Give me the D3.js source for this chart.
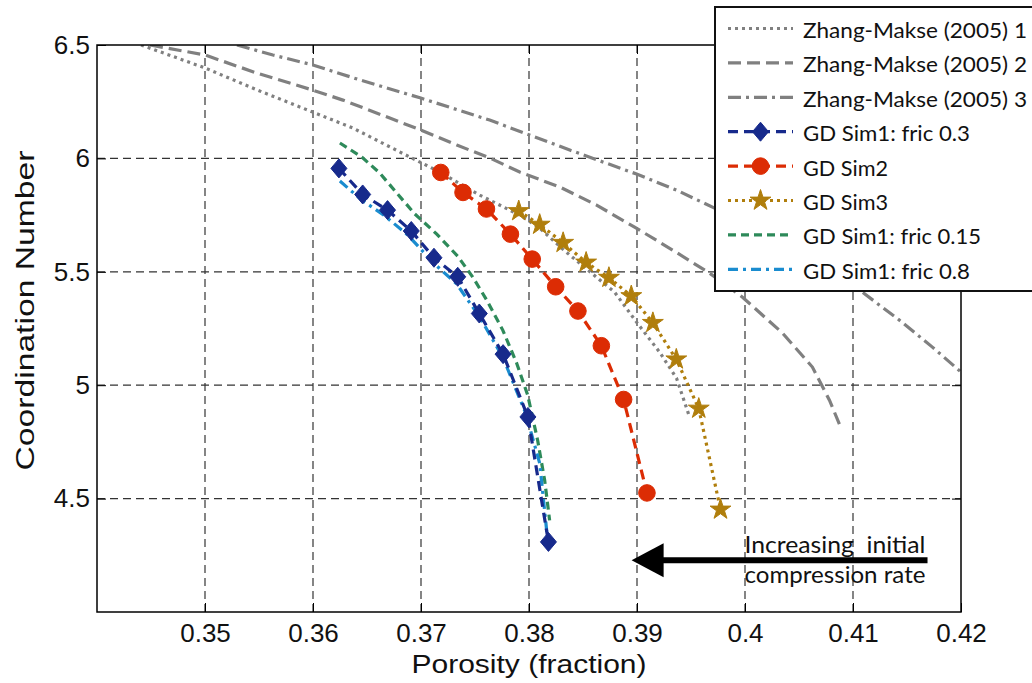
<!DOCTYPE html>
<html>
<head>
<meta charset="utf-8">
<script src="https://cdn.jsdelivr.net/npm/d3@7"></script>
<style>
  body { margin: 0; background: #fff; }
  svg { display: block; }
</style>
</head>
<body>
<svg id="chart" width="1032" height="683"></svg>
<script>
// ---- axis ticks ----
const xTickValues = [0.35, 0.36, 0.37, 0.38, 0.39, 0.40, 0.41, 0.42];
const xTickLabels = ["0.35", "0.36", "0.37", "0.38", "0.39", "0.4", "0.41", "0.42"];
const yTickValues = [4.5, 5, 5.5, 6, 6.5];
const yTickLabels = ["4.5", "5", "5.5", "6", "6.5"];

// ---- Zhang-Makse (2005) reference curves ----
const zm1Porosity = [0.34408, 0.35, 0.35481, 0.35999, 0.36369, 0.36896, 0.37174, 0.37544, 0.37914, 0.38099, 0.38312, 0.38534, 0.38793, 0.38996, 0.39209, 0.39366, 0.39487];
const zm1Coord    = [6.50, 6.399, 6.302, 6.204, 6.134, 6.006, 5.940, 5.838, 5.750, 5.693, 5.600, 5.512, 5.410, 5.278, 5.146, 5.031, 4.859];

const zm2Porosity = [0.34491, 0.35, 0.35481, 0.35999, 0.36277, 0.36711, 0.36998, 0.37331, 0.37636, 0.37914, 0.38284, 0.38626, 0.38978, 0.39329, 0.39672, 0.39977, 0.40347, 0.40624, 0.40782, 0.40874];
const zm2Coord    = [6.50, 6.456, 6.376, 6.301, 6.257, 6.178, 6.125, 6.059, 6.002, 5.940, 5.874, 5.794, 5.697, 5.596, 5.494, 5.388, 5.230, 5.080, 4.934, 4.828];

const zm3Porosity = [0.35296, 0.35629, 0.35999, 0.36434, 0.36998, 0.37636, 0.38377, 0.38996, 0.39366, 0.39718, 0.41087, 0.41429, 0.41735, 0.42];
const zm3Coord    = [6.50, 6.456, 6.412, 6.346, 6.266, 6.169, 6.037, 5.931, 5.860, 5.781, 5.410, 5.287, 5.168, 5.058];

// ---- GD simulations ----
const sim1f03Porosity = [0.3624, 0.3646, 0.3669, 0.3691, 0.3712, 0.3734, 0.3754, 0.3776, 0.3799, 0.3818];
const sim1f03Coord    = [5.956, 5.841, 5.772, 5.680, 5.562, 5.478, 5.316, 5.137, 4.860, 4.309];

const sim2Porosity = [0.37183, 0.37389, 0.37606, 0.37828, 0.38030, 0.38247, 0.38453, 0.38670, 0.38876, 0.39092];
const sim2Coord    = [5.938, 5.850, 5.777, 5.666, 5.556, 5.434, 5.327, 5.174, 4.937, 4.525];

const sim3Porosity = [0.37905, 0.38099, 0.38316, 0.38529, 0.38740, 0.38947, 0.39147, 0.39364, 0.39572, 0.39773];
const sim3Coord    = [5.768, 5.708, 5.628, 5.541, 5.474, 5.393, 5.275, 5.114, 4.897, 4.452];

const sim1f015Porosity = [0.36249, 0.36452, 0.36619, 0.36776, 0.36943, 0.37146, 0.37340, 0.37479, 0.37609, 0.37757, 0.37886, 0.37988, 0.38080, 0.38145, 0.38191];
const sim1f015Coord    = [6.068, 6.006, 5.935, 5.847, 5.755, 5.666, 5.569, 5.477, 5.375, 5.243, 5.097, 4.956, 4.757, 4.581, 4.404];

const sim1f08Porosity = [0.36249, 0.36452, 0.36656, 0.36878, 0.37118, 0.37331, 0.37544, 0.37757, 0.37969, 0.38099, 0.38173];
const sim1f08Coord    = [5.900, 5.816, 5.750, 5.662, 5.538, 5.446, 5.300, 5.124, 4.877, 4.656, 4.316];

// ---- annotation ----
const arrowTail = [0.4169, 4.228];
const arrowTip  = [0.3895, 4.228];
const noteLines = ["Increasing\u00a0\u00a0initial", "compression rate"];
const noteAnchor = [0.39995, 4.259];

// ---- layout ----
const svg = d3.select("#chart");
const plot = { left: 97, right: 961, top: 45, bottom: 612 };

const x = d3.scaleLinear().domain([0.34, 0.42]).range([plot.left, plot.right]);
const y = d3.scaleLinear().domain([4.0, 6.5]).range([plot.bottom, plot.top]);

const zip = (xs, ys) => xs.map((v, i) => [v, ys[i]]);

const series = [
  { name: "Zhang-Makse (2005) 1", pts: zip(zm1Porosity, zm1Coord), color: "#808080", dash: "3,4", width: 3.2, marker: null },
  { name: "Zhang-Makse (2005) 2", pts: zip(zm2Porosity, zm2Coord), color: "#808080", dash: "13,6", width: 3.2, marker: null },
  { name: "Zhang-Makse (2005) 3", pts: zip(zm3Porosity, zm3Coord), color: "#808080", dash: "13,5,3,5", width: 3.2, marker: null },
  { name: "GD Sim1: fric 0.3", pts: zip(sim1f03Porosity, sim1f03Coord), color: "#172a8c", dash: "10,6", width: 3.2, marker: "diamond" },
  { name: "GD Sim2", pts: zip(sim2Porosity, sim2Coord), color: "#dc2c04", dash: "10,6", width: 3.2, marker: "circle" },
  { name: "GD Sim3", pts: zip(sim3Porosity, sim3Coord), color: "#b07e0c", dash: "3,4", width: 3.2, marker: "star" },
  { name: "GD Sim1: fric 0.15", pts: zip(sim1f015Porosity, sim1f015Coord), color: "#2e8a5a", dash: "8,5", width: 3.2, marker: null },
  { name: "GD Sim1: fric 0.8", pts: zip(sim1f08Porosity, sim1f08Coord), color: "#1a8ccf", dash: "10,5,3,5", width: 3.2, marker: null }
];
// drawing order: reference curves, then sims (fric 0.15 and 0.8 beneath the diamonds)
const drawOrder = [0, 1, 2, 6, 7, 4, 5, 3];

// clip region
svg.append("defs").append("clipPath").attr("id", "plotClip")
  .append("rect")
  .attr("x", plot.left).attr("y", plot.top)
  .attr("width", plot.right - plot.left).attr("height", plot.bottom - plot.top);

// ---- grid ----
const grid = svg.append("g").attr("class", "grid");
xTickValues.filter(v => v < 0.4199).forEach(v => {
  grid.append("line")
    .attr("x1", x(v)).attr("x2", x(v))
    .attr("y1", plot.top).attr("y2", plot.bottom)
    .attr("stroke", "#444").attr("stroke-width", 1.3).attr("stroke-dasharray", "8,5");
});
yTickValues.filter(v => v < 6.499).forEach(v => {
  grid.append("line")
    .attr("x1", plot.left).attr("x2", plot.right)
    .attr("y1", y(v)).attr("y2", y(v))
    .attr("stroke", "#333").attr("stroke-width", 1.2).attr("stroke-dasharray", "8,5");
});

// ---- axes ----
const tickLen = 9;
const xAxisBottom = d3.axisBottom(x).tickValues(xTickValues)
  .tickFormat((d, i) => xTickLabels[i]).tickSizeInner(-tickLen).tickSizeOuter(0).tickPadding(12);
const xAxisTop = d3.axisTop(x).tickValues(xTickValues).tickFormat("").tickSizeInner(-tickLen).tickSizeOuter(0);
const yAxisLeft = d3.axisLeft(y).tickValues(yTickValues)
  .tickFormat((d, i) => yTickLabels[i]).tickSizeInner(-tickLen).tickSizeOuter(0).tickPadding(7);
const yAxisRight = d3.axisRight(y).tickValues(yTickValues).tickFormat("").tickSizeInner(-tickLen).tickSizeOuter(0);

function styleAxis(g) {
  g.select(".domain").remove();
  g.selectAll(".tick line").attr("stroke", "#000").attr("stroke-width", 1);
  g.selectAll(".tick text")
    .attr("fill", "#111")
    .style("font-family", "'Liberation Sans', Arial, sans-serif")
    .style("font-size", "26px");
}
svg.append("g").attr("transform", `translate(0,${plot.bottom})`).call(xAxisBottom).call(styleAxis);
svg.append("g").attr("transform", `translate(0,${plot.top})`).call(xAxisTop).call(styleAxis);
svg.append("g").attr("transform", `translate(${plot.left},0)`).call(yAxisLeft).call(styleAxis);
svg.append("g").attr("transform", `translate(${plot.right},0)`).call(yAxisRight).call(styleAxis);

// ---- series lines ----
const lineGen = d3.line().x(d => x(d[0])).y(d => y(d[1]));
const linesG = svg.append("g").attr("clip-path", "url(#plotClip)");

const diamondPath = "M0,-9.5L8,0L0,9.5L-8,0Z";
const starPath = d3.symbol().type(d3.symbolStar).size(135)();
const circlePath = d3.symbol().type(d3.symbolCircle).size(Math.PI * 8.3 * 8.3)();
function markerPath(kind) {
  if (kind === "diamond") return diamondPath;
  if (kind === "star") return starPath;
  return circlePath;
}

drawOrder.forEach(i => {
  const s = series[i];
  linesG.append("path")
    .datum(s.pts)
    .attr("d", lineGen)
    .attr("fill", "none")
    .attr("stroke", s.color)
    .attr("stroke-width", s.width)
    .attr("stroke-dasharray", s.dash);
  if (s.marker) {
    linesG.selectAll(null).data(s.pts).enter().append("path")
      .attr("transform", d => `translate(${x(d[0])},${y(d[1])})`)
      .attr("d", markerPath(s.marker))
      .attr("fill", s.color)
      .attr("stroke", s.color)
      .attr("stroke-width", 1);
  }
});

// ---- frame ----
svg.append("rect")
  .attr("x", plot.left).attr("y", plot.top)
  .attr("width", plot.right - plot.left).attr("height", plot.bottom - plot.top)
  .attr("fill", "none").attr("stroke", "#000").attr("stroke-width", 1.5);

// ---- axis titles ----
svg.append("text")
  .attr("x", (plot.left + plot.right) / 2).attr("y", 673)
  .attr("text-anchor", "middle")
  .attr("textLength", 235).attr("lengthAdjust", "spacingAndGlyphs")
  .style("font-family", "'Liberation Sans', Arial, sans-serif")
  .style("font-size", "26px").attr("fill", "#111")
  .text("Porosity (fraction)");

svg.append("text")
  .attr("transform", `translate(34,${(plot.top + plot.bottom) / 2 - 18}) rotate(-90)`)
  .attr("text-anchor", "middle")
  .attr("textLength", 320).attr("lengthAdjust", "spacingAndGlyphs")
  .style("font-family", "'Liberation Sans', Arial, sans-serif")
  .style("font-size", "26px").attr("fill", "#111")
  .text("Coordination Number");

// ---- annotation ----
svg.append("line")
  .attr("x1", x(arrowTail[0])).attr("y1", y(arrowTail[1]))
  .attr("x2", x(arrowTip[0]) + 28).attr("y2", y(arrowTip[1]))
  .attr("stroke", "#000").attr("stroke-width", 6);
svg.append("path")
  .attr("transform", `translate(${x(arrowTip[0])},${y(arrowTip[1])})`)
  .attr("d", "M0,0L32,-17L32,17Z")
  .attr("fill", "#000");
const note = svg.append("text")
  .style("font-family", "Lato, 'Open Sans', sans-serif")
  .style("font-size", "23px").attr("fill", "#111");
noteLines.forEach((t, i) => {
  note.append("tspan")
    .attr("x", x(noteAnchor[0])).attr("y", y(noteAnchor[1]) + i * 30)
    .attr("textLength", 181).attr("lengthAdjust", "spacingAndGlyphs")
    .text(t);
});

// ---- legend ----
const legend = svg.append("g");
legend.append("rect")
  .attr("x", 715).attr("y", 7).attr("width", 340).attr("height", 284)
  .attr("fill", "#fff").attr("stroke", "#111").attr("stroke-width", 2);
const legendWidths = [224, 224, 224, 167, 85, 85, 178, 167];
series.forEach((s, i) => {
  const ry = 28.5 + i * 34.4;
  const row = legend.append("g");
  row.append("line")
    .attr("x1", 728).attr("x2", 793).attr("y1", ry).attr("y2", ry)
    .attr("stroke", s.color).attr("stroke-width", s.width).attr("stroke-dasharray", s.dash);
  if (s.marker) {
    row.append("path")
      .attr("transform", `translate(760.5,${ry})`)
      .attr("d", markerPath(s.marker))
      .attr("fill", s.color).attr("stroke", s.color);
  }
  row.append("text")
    .attr("x", 803).attr("y", ry + 9.5)
    .attr("textLength", legendWidths[i]).attr("lengthAdjust", "spacingAndGlyphs")
    .style("font-family", "Lato, 'Open Sans', sans-serif")
    .style("font-size", "22px").attr("fill", "#111")
    .text(s.name);
});
</script>
</body>
</html>
